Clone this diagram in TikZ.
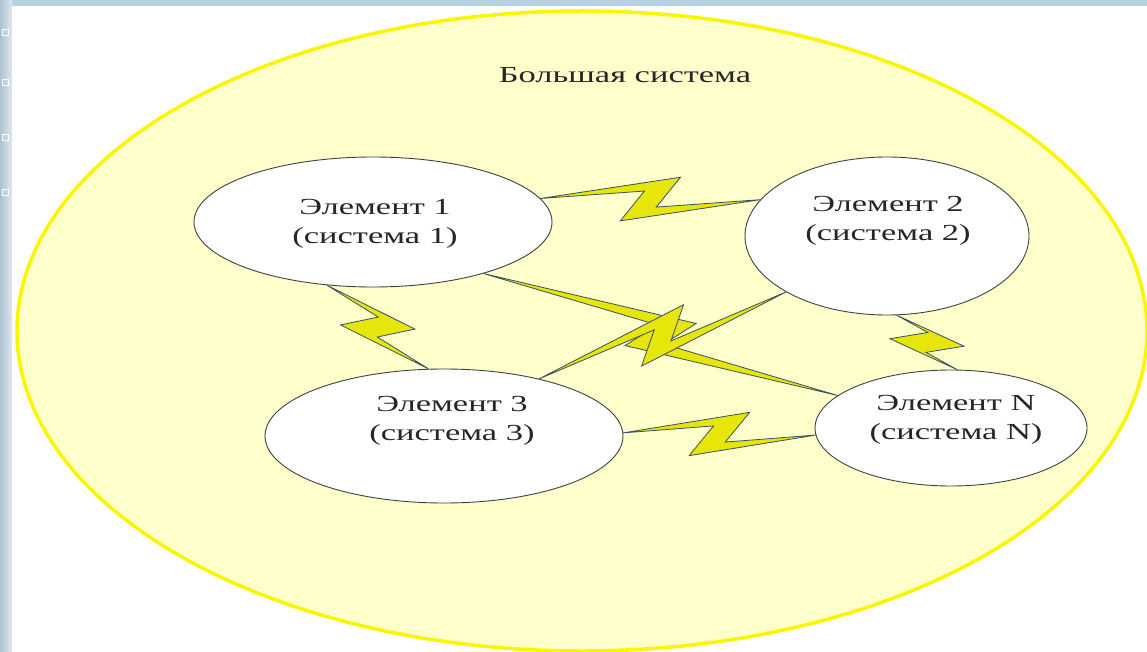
\documentclass[tikz,border=0pt]{standalone}
\usepackage{fontspec}
\setmainfont[FakeStretch=1.5]{Liberation Serif}
\usetikzlibrary{shapes.geometric,calc}
\definecolor{bigfill}{RGB}{255,255,204}
\definecolor{bigedge}{RGB}{250,245,0}
\definecolor{boltyellow}{RGB}{230,230,10}
\definecolor{boltedge}{RGB}{60,80,100}
\definecolor{stripblue}{RGB}{185,210,226}
\tikzset{
  elem/.style={ellipse, draw=black!75, fill=white, line width=0.9pt, inner sep=0pt},
  txt/.style={align=center, font=\fontsize{23}{29}\selectfont, text=black!85},
  bolt/.style={fill=boltyellow, draw=boltedge, line width=0.8pt, line join=miter},
}
% lightning bolt between two border points
\newcommand{\zap}[2]{%
  \path[bolt] (#1)
    -- ($(#1)!0.5!(#2)!30pt!(#2)!22pt!90:(#2)$)
    -- ($(#1)!0.5!(#2)!6pt!(#2)!8pt!-90:(#2)$)
    -- (#2)
    -- ($(#1)!0.5!(#2)!-30pt!(#2)!22pt!-90:(#2)$)
    -- ($(#1)!0.5!(#2)!-6pt!(#2)!8pt!90:(#2)$)
    -- cycle;
}
\begin{document}
\begin{tikzpicture}[x=1pt, y=-1pt]
  \useasboundingbox (0,0) rectangle (1147,652);
  % slide background
  \fill[stripblue] (0,0) rectangle (1147,6);
  \fill[left color=stripblue!90!black!90!white, right color=stripblue!50!white] (0,0) rectangle (12,652);
  \foreach \y in {32,82,137,192}
    \draw[white, line width=0.6pt] (2,\y-3) rectangle (8,\y+3);
  % the big system
  \draw[draw=bigedge, fill=bigfill, line width=3.5pt] (582,331) ellipse [x radius=565pt, y radius=320pt];
  \node[txt] (title) at (625,75) {Большая система};
  % elements
  \node[elem, minimum width=358pt, minimum height=130pt] (e1) at (373,222) {};
  \node[elem, minimum width=284pt, minimum height=158pt] (e2) at (887,236) {};
  \node[elem, minimum width=358pt, minimum height=134pt] (e3) at (444,436) {};
  \node[elem, minimum width=272pt, minimum height=116pt] (eN) at (951,428) {};
  \node[txt] (t1) at (375,224) {Элемент 1\\(система 1)};
  \node[txt] (t2) at (888,221) {Элемент 2\\(система 2)};
  \node[txt] (t3) at (452,421) {Элемент 3\\(система 3)};
  \node[txt] (tN) at (956,420) {Элемент N\\(система N)};
  % links
  \zap{e1.8}{e2.164}
  \zap{e3.1}{eN.-177}
  \zap{e1.-126}{e3.103}
  \zap{e2.-83}{eN.84}
  \zap{e1.-25}{eN.164}
  \zap{e2.-151}{e3.31}
\end{tikzpicture}
\end{document}
